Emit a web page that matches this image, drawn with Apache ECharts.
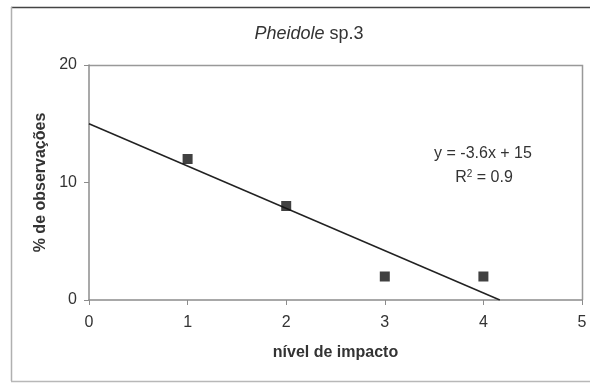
<!DOCTYPE html>
<html>
<head>
<meta charset="utf-8">
<script src="https://cdn.jsdelivr.net/npm/echarts@6/dist/echarts.min.js"></script>
<style>
  html, body { margin: 0; padding: 0; background: #fff; }
  #main { width: 590px; height: 385px; }
</style>
</head>
<body>
<div id="main"></div>
<script>
// dados
var impactLevels = [1, 2, 3, 4];
var observPct = [12, 8, 2, 2];
var xTicks = [0, 1, 2, 3, 4, 5];
var yTicks = [0, 10, 20];
// linha de tendência (Excel)
var trendSlope = -3.6;
var trendIntercept = 15;
var trendR2 = 0.9;

var points = impactLevels.map(function (x, i) { return [x, observPct[i]]; });
var trendLine = [[0, trendIntercept], [-trendIntercept / trendSlope, 0]];

var chart = echarts.init(document.getElementById("main"));
var axisGray = "#8c8c8c";
var textCol = "#333";
var ff = "Liberation Sans";

chart.setOption({
  animation: false,
  backgroundColor: "#fff",
  title: {
    text: "{i|Pheidole} sp.3",
    left: 304,
    top: 20,
    textAlign: "center",
    textStyle: {
      fontFamily: ff,
      fontSize: 18,
      fontWeight: "normal",
      color: textCol,
      rich: {
        i: { fontFamily: ff, fontSize: 18, fontStyle: "italic", color: textCol }
      }
    }
  },
  grid: { left: 89, right: 8, top: 65, bottom: 85 },
  xAxis: {
    type: "value",
    min: xTicks[0],
    max: xTicks[xTicks.length - 1],
    interval: 1,
    name: "nível de impacto",
    nameLocation: "middle",
    nameGap: 45,
    nameTextStyle: { fontFamily: ff, fontSize: 16, fontWeight: "bold", color: textCol },
    axisLine: { onZero: false, lineStyle: { color: axisGray, width: 1.5 } },
    axisTick: { show: true, length: 5, inside: false, lineStyle: { color: axisGray } },
    axisLabel: { fontFamily: ff, fontSize: 16, color: textCol, margin: 15 },
    splitLine: { show: false }
  },
  yAxis: {
    type: "value",
    min: yTicks[0],
    max: yTicks[yTicks.length - 1],
    interval: 10,
    name: "% de observações",
    nameLocation: "middle",
    nameGap: 36,
    nameTextStyle: { fontFamily: ff, fontSize: 16, fontWeight: "bold", color: textCol },
    axisLine: { show: true, lineStyle: { color: axisGray, width: 1.5 } },
    axisTick: { show: true, length: 5, lineStyle: { color: axisGray } },
    axisLabel: { fontFamily: ff, fontSize: 16, color: textCol, margin: 12 },
    splitLine: { show: false }
  },
  graphic: [
    // moldura externa
    { type: "line", shape: { x1: 11, y1: 7.5, x2: 600, y2: 7.5 }, style: { stroke: "#444", lineWidth: 1.5 } },
    { type: "line", shape: { x1: 11.5, y1: 7, x2: 11.5, y2: 381 }, style: { stroke: "#b0b0b0", lineWidth: 1.5 } },
    { type: "line", shape: { x1: 11, y1: 381.5, x2: 600, y2: 381.5 }, style: { stroke: "#b8b8b8", lineWidth: 1.5 } },
    // borda da área do gráfico
    { type: "polyline", shape: { points: [[89, 65.5], [582.5, 65.5], [582.5, 300]] }, style: { stroke: "#999", lineWidth: 1.5, fill: null } },
    {
      type: "text",
      x: 483,
      y: 154,
      style: {
        text: "y = -3.6x + 15",
        fontFamily: ff,
        fontSize: 16,
        fill: textCol,
        align: "center",
        verticalAlign: "middle"
      }
    },
    {
      type: "text",
      x: 484,
      y: 178,
      style: {
        text: "{a|R}{s|2}{a| = " + trendR2 + "}",
        fontFamily: ff,
        fontSize: 16,
        fill: textCol,
        align: "center",
        verticalAlign: "middle",
        rich: {
          a: { fontFamily: ff, fontSize: 16, fill: textCol },
          s: { fontFamily: ff, fontSize: 10, fill: textCol, verticalAlign: "top", padding: [0, 0, 7, 0] }
        }
      }
    }
  ],
  series: [
    {
      type: "line",
      data: trendLine,
      showSymbol: false,
      symbol: "none",
      lineStyle: { color: "#222", width: 1.5 },
      z: 2
    },
    {
      type: "scatter",
      data: points,
      symbol: "rect",
      symbolSize: 10,
      itemStyle: { color: "#111" },
      z: 3
    }
  ]
});
</script>
</body>
</html>
